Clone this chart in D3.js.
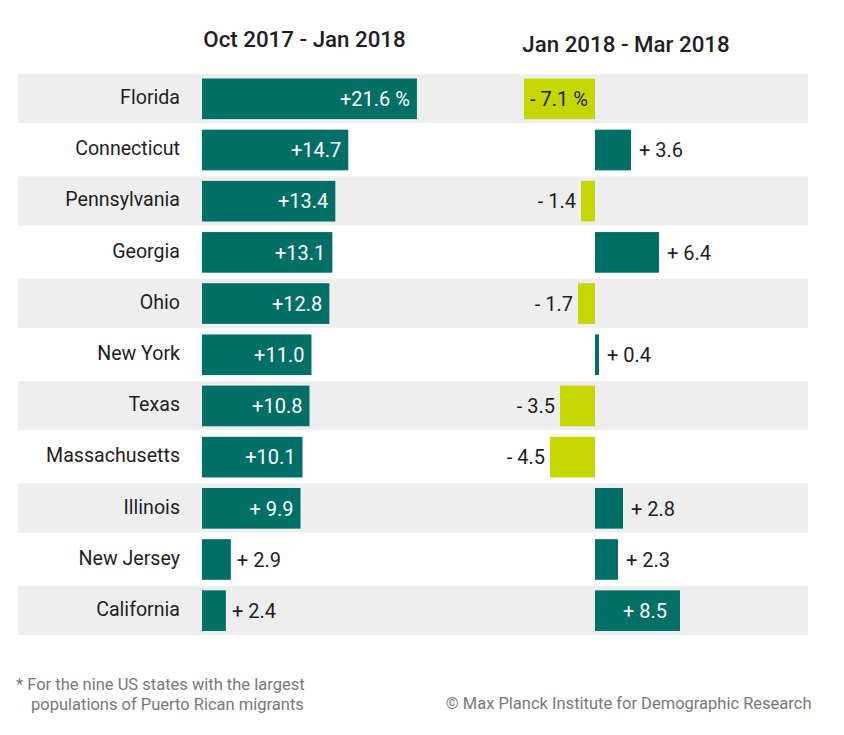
<!DOCTYPE html>
<html>
<head>
<meta charset="utf-8">
<script src="https://cdn.jsdelivr.net/npm/d3@7"></script>
<style>
	body { margin: 0; background: #fff; }
	svg { display: block; font-family: Roboto, "Noto Sans", sans-serif; }
</style>
</head>
<body>
<script>
const states = ["Florida", "Connecticut", "Pennsylvania", "Georgia", "Ohio", "New York",
	"Texas", "Massachusetts", "Illinois", "New Jersey", "California"]
const octJan = [21.6, 14.7, 13.4, 13.1, 12.8, 11.0, 10.8, 10.1, 9.9, 2.9, 2.4]
const janMar = [-7.1, 3.6, -1.4, 6.4, -1.7, 0.4, -3.5, -4.5, 2.8, 2.3, 8.5]
const periods = ["Oct 2017 - Jan 2018", "Jan 2018 - Mar 2018"]
const footnote = ["* For the nine US states with the largest", "populations of Puerto Rican migrants"]
const credit = "© Max Planck Institute for Demographic Research"

function renderChart() {
	const width = 844, height = 735
	const teal = "#006f65", lime = "#c5d600", band = "#eeeeee", ink = "#1e1e1e"

	const svg = d3.select("body").append("svg")
		.attr("width", width)
		.attr("height", height)

	const y = d3.scaleBand()
		.domain(states)
		.range([74, 635])
		.paddingInner(0.04)

	const xLeft = d3.scaleLinear().domain([0, 20]).range([202, 401])
	const xRight = d3.scaleLinear().domain([0, 10]).range([595, 695])

	// alternating grey rows
	svg.append("g").selectAll("rect")
		.data(states.filter((d, i) => i % 2 === 0))
		.join("rect")
			.attr("x", 18)
			.attr("width", 790)
			.attr("y", d => y(d))
			.attr("height", y.bandwidth())
			.attr("fill", band)

	// period titles
	svg.append("g").selectAll("text")
		.data(periods)
		.join("text")
			.attr("x", (d, i) => i === 0 ? 304.5 : 626)
			.attr("y", (d, i) => i === 0 ? 47 : 52)
			.attr("text-anchor", "middle")
			.attr("font-size", 22.3)
			.attr("font-weight", 500)
			.attr("fill", ink)
			.text(d => d)

	// state names
	svg.append("g").selectAll("text")
		.data(states)
		.join("text")
			.attr("x", 180)
			.attr("y", d => y(d) + y.bandwidth() / 2 + 5.5)
			.attr("text-anchor", "end")
			.attr("font-size", 19.6)
			.attr("fill", ink)
			.text(d => d)

	const fmt = (v, i) => (v < 0 ? "-" : "+") + (Math.abs(v) < 10 ? " " : "") +
		Math.abs(v).toFixed(1) + (i === 0 ? " %" : "")

	const barTop = d => y(d) + 4.5
	const barH = y.bandwidth() - 8.5
	const mid = d => y(d) + y.bandwidth() / 2 + 7.5

	// left panel
	const left = states.map((s, i) => ({ state: s, value: octJan[i], i }))
	const gL = svg.append("g")
	gL.selectAll("rect")
		.data(left)
		.join("rect")
			.attr("x", xLeft(0))
			.attr("width", d => xLeft(d.value) - xLeft(0))
			.attr("y", d => barTop(d.state))
			.attr("height", barH)
			.attr("fill", teal)
	gL.selectAll("text")
		.data(left)
		.join("text")
			.attr("x", d => d.value >= 5 ? xLeft(d.value) - 7 : xLeft(d.value) + 6)
			.attr("y", d => mid(d.state))
			.attr("text-anchor", d => d.value >= 5 ? "end" : "start")
			.attr("font-size", 20)
			.attr("fill", d => d.value >= 5 ? "#fff" : ink)
			.text(d => fmt(d.value, d.i))

	// right panel
	const right = states.map((s, i) => ({ state: s, value: janMar[i], i }))
	const gR = svg.append("g")
	gR.selectAll("rect")
		.data(right)
		.join("rect")
			.attr("x", d => xRight(Math.min(0, d.value)))
			.attr("width", d => Math.abs(xRight(d.value) - xRight(0)))
			.attr("y", d => barTop(d.state))
			.attr("height", barH)
			.attr("fill", d => d.value < 0 ? lime : teal)
	gR.selectAll("text")
		.data(right)
		.join("text")
			.attr("x", d => {
				const inside = Math.abs(d.value) >= 7
				if (d.value < 0) return inside ? xRight(d.value) + 6 : xRight(d.value) - 5
				return inside ? xRight(d.value) - 13 : xRight(d.value) + 8
			})
			.attr("y", d => mid(d.state))
			.attr("text-anchor", d => {
				const inside = Math.abs(d.value) >= 7
				return (d.value < 0) === inside ? "start" : "end"
			})
			.attr("font-size", 20)
			.attr("fill", d => d.value > 0 && d.value >= 7 ? "#fff" : ink)
			.text(d => fmt(d.value, d.i))

	// footnote and credit
	const foot = svg.append("g")
		.attr("font-size", 16.5)
		.attr("fill", "#787878")
	foot.selectAll("text.note")
		.data(footnote)
		.join("text")
			.attr("class", "note")
			.attr("x", (d, i) => i === 0 ? 16 : 31)
			.attr("y", (d, i) => 690 + i * 20)
			.text(d => d)
	foot.append("text")
		.attr("x", 811.5)
		.attr("y", 708.5)
		.attr("text-anchor", "end")
		.text(credit)
}
renderChart()
</script>
</body>
</html>
